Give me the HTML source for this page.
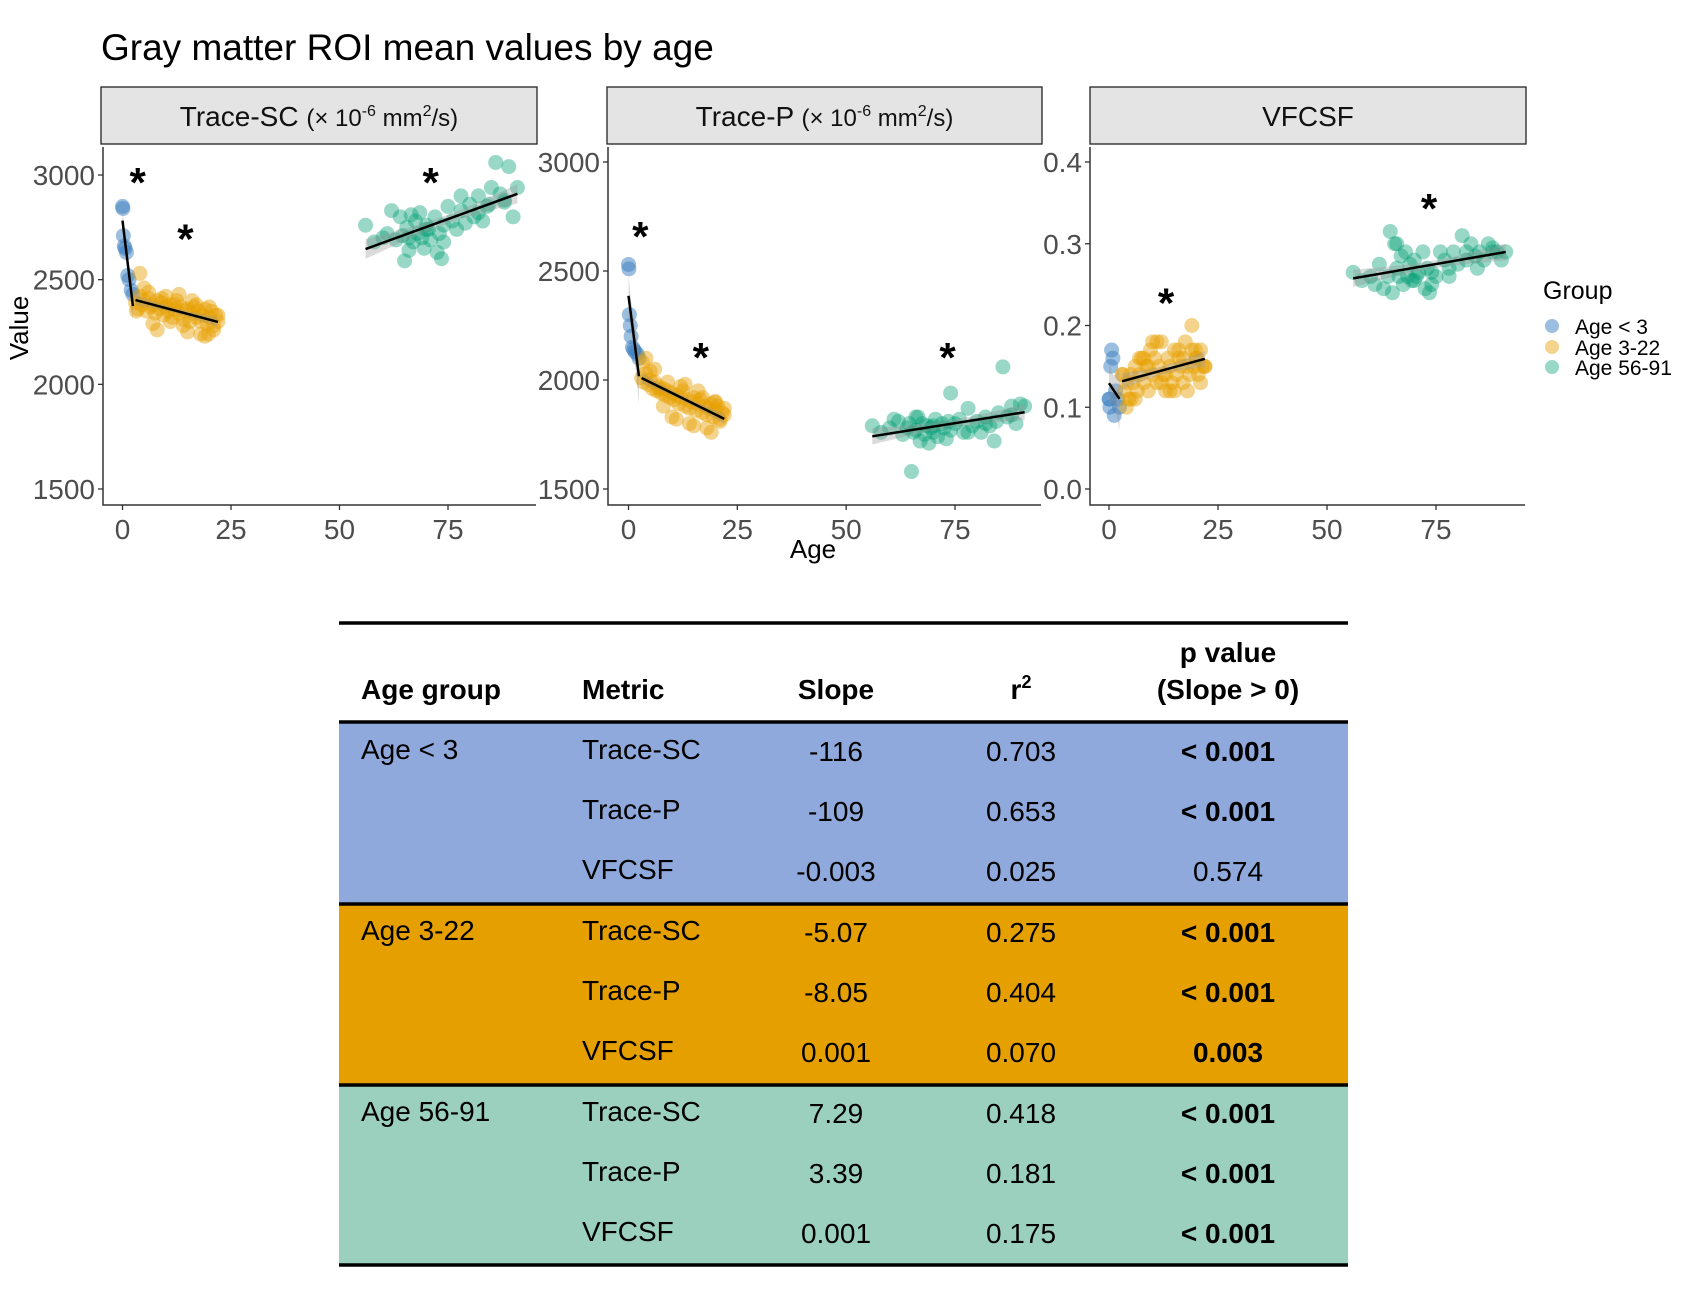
<!DOCTYPE html>
<html><head><meta charset="utf-8"><style>
body{margin:0;background:#fff;}
svg{display:block;font-family:"Liberation Sans",Arial,sans-serif;}
</style></head><body>
<svg id="fig" width="1687" height="1307" viewBox="0 0 1687 1307" xmlns="http://www.w3.org/2000/svg">
<text x="101" y="60" font-size="37" fill="#000">Gray matter ROI mean values by age</text>
<g id="plots"></g>
<text x="28" y="328" font-size="26" text-anchor="middle" transform="rotate(-90 28 328)">Value</text>
<text x="813" y="558" font-size="26" text-anchor="middle">Age</text>
<g>
<text x="1543" y="299" font-size="25">Group</text>
<g><circle cx="1552" cy="326" r="7" fill="#3a7dbf" fill-opacity="0.5"/><text x="1575" y="334" font-size="21">Age &lt; 3</text></g>
<g><circle cx="1552" cy="347" r="7" fill="#E69F00" fill-opacity="0.45"/><text x="1575" y="355" font-size="21">Age 3-22</text></g>
<g><circle cx="1552" cy="367" r="7" fill="#009E73" fill-opacity="0.4"/><text x="1575" y="375" font-size="21">Age 56-91</text></g>
</g>
<g id="table"></g>
</svg>
<script>
// ---- data ----
const blueAges=[0,0.1,0.2,0.4,0.6,0.9,1.2,1.5,2,2.4];
const orangeAges=[3,3.5,4,4.5,5,5.5,6,6.5,7,7.5,8,8.5,9,9.5,10,10.5,11,11.5,12,12.5,13,13.5,14,14.5,15,15.5,16,16.5,17,17.5,18,18.5,19,19.5,20,20.5,21,21.5,22,4,6,8,10,12,14,16,18,20,21,9,11,13,15,17,19,5,7,3.2,22,19.8];
const greenAges=[56,58,60,61,62,63,64,64.5,65,65.5,66,66.5,67,67.5,68,68.5,69,69.5,70,70.5,71,72,72.5,73,73.5,74,75,76,77,78,79,80,81,82,83,84,84.5,85,86,87,88,89,90,91,66,70,74,78,82,88];

const scBlue=[2850,2840,2710,2660,2650,2630,2520,2500,2450,2430];
const scOrange=[2390,2360,2420,2380,2400,2350,2410,2370,2380,2340,2400,2360,2390,2330,2370,2350,2380,2320,2360,2400,2340,2370,2310,2350,2360,2300,2340,2370,2320,2350,2300,2330,2360,2290,2320,2350,2280,2330,2300,2530,2440,2260,2420,2380,2280,2400,2240,2370,2260,2410,2300,2430,2250,2380,2230,2460,2290,2350,2330,2240];
const scGreen=[2760,2680,2700,2720,2830,2690,2800,2710,2590,2750,2700,2810,2680,2780,2720,2820,2700,2650,2760,2740,2690,2800,2630,2720,2600,2760,2850,2780,2740,2830,2770,2860,2800,2900,2780,2850,2860,2940,3060,2910,2870,3040,2800,2940,2640,2740,2680,2900,2820,2880];

const pBlue=[2530,2510,2300,2250,2200,2150,2140,2130,2120,2100];
const pOrange=[2010,1990,2030,1980,2000,1960,1990,1950,1970,1940,1960,1930,1950,1920,1940,1910,1930,1890,1920,1950,1880,1910,1870,1900,1920,1860,1890,1910,1850,1880,1840,1870,1890,1830,1860,1880,1820,1850,1840,2100,2050,1880,1830,1970,1800,1950,1780,1900,1810,1990,1820,1980,1790,1920,1760,2040,1960,2080,1870,1900];
const pGreen=[1790,1760,1780,1820,1810,1750,1780,1800,1580,1760,1770,1830,1720,1800,1750,1790,1710,1780,1760,1820,1740,1800,1780,1730,1810,1940,1800,1820,1760,1870,1790,1810,1760,1830,1790,1720,1810,1850,2060,1830,1880,1800,1890,1880,1830,1790,1770,1760,1800,1840];

const vBlue=[0.11,0.11,0.10,0.15,0.17,0.16,0.09,0.12,0.11,0.10];
const vOrange=[0.14,0.12,0.13,0.11,0.14,0.13,0.15,0.12,0.14,0.16,0.13,0.15,0.12,0.17,0.14,0.16,0.13,0.15,0.18,0.14,0.12,0.16,0.15,0.13,0.17,0.14,0.16,0.15,0.13,0.18,0.15,0.14,0.17,0.15,0.16,0.14,0.17,0.15,0.15,0.10,0.11,0.16,0.18,0.13,0.12,0.17,0.12,0.16,0.13,0.15,0.18,0.14,0.12,0.16,0.20,0.11,0.16,0.14,0.15,0.17];
const vGreen=[0.265,0.255,0.26,0.25,0.275,0.245,0.26,0.315,0.24,0.30,0.27,0.26,0.285,0.25,0.29,0.26,0.275,0.255,0.28,0.26,0.265,0.29,0.245,0.27,0.24,0.25,0.26,0.29,0.28,0.27,0.29,0.275,0.31,0.28,0.30,0.285,0.27,0.29,0.28,0.30,0.29,0.29,0.28,0.29,0.30,0.255,0.265,0.26,0.29,0.295];

const xTicks=[0,25,50,75];
const scTicks=[1500,2000,2500,3000];
const pTicks=[1500,2000,2500,3000];
const vTicks=[0.0,0.1,0.2,0.3,0.4];
const vTickLabels=["0.0","0.1","0.2","0.3","0.4"];
const scStars=[[3.5,2990],[14.5,2720],[71,2990]];
const pStars=[[2.7,2683],[16.6,2128],[73.3,2128]];
const vStars=[[13.1,0.234],[73.4,0.35]];

const tableGroups=["Age < 3","Age 3-22","Age 56-91"];
const tableMetrics=["Trace-SC","Trace-P","VFCSF"];
const tableSlopes=[["-116","-109","-0.003"],["-5.07","-8.05","0.001"],["7.29","3.39","0.001"]];
const tableR2=[["0.703","0.653","0.025"],["0.275","0.404","0.070"],["0.418","0.181","0.175"]];
const tableP=[["< 0.001","< 0.001","0.574"],["< 0.001","< 0.001","0.003"],["< 0.001","< 0.001","< 0.001"]];
const tableBold=[[true,true,false],[true,true,true],[true,true,true]];

// ---- drawing ----
const NS="http://www.w3.org/2000/svg";
function mk(tag,attrs,parent){const e=document.createElementNS(NS,tag);for(const k in attrs)e.setAttribute(k,attrs[k]);if(parent)parent.appendChild(e);return e;}
const COLORS=["#3a7dbf","#E69F00","#009E73"];
const OPAC=[0.5,0.45,0.4];
const plots=document.getElementById('plots');

const panels=[
 {name:'trace-sc',left:103,right:536,x0:122.5,x75:448,yA:3000,pyA:175,yB:1500,pyB:489,ticks:scTicks,labels:scTicks.map(String),stars:scStars,data:[scBlue,scOrange,scGreen],strip:[101,537]},
 {name:'trace-p',left:608,right:1041,x0:628.5,x75:955,yA:3000,pyA:162,yB:1500,pyB:489,ticks:pTicks,labels:pTicks.map(String),stars:pStars,data:[pBlue,pOrange,pGreen],strip:[607,1042]},
 {name:'vfcsf',left:1090,right:1525,x0:1109,x75:1436,yA:0.4,pyA:162,yB:0,pyB:489,ticks:vTicks,labels:vTickLabels,stars:vStars,data:[vBlue,vOrange,vGreen],strip:[1090,1526]}
];
const ages=[blueAges,orangeAges,greenAges];
const TOP=147,BOT=505;

function fit(xs,ys){const n=xs.length;let mx=0,my=0;for(let i=0;i<n;i++){mx+=xs[i];my+=ys[i];}mx/=n;my/=n;let sxx=0,sxy=0;for(let i=0;i<n;i++){sxx+=(xs[i]-mx)**2;sxy+=(xs[i]-mx)*(ys[i]-my);}const b=sxy/sxx,a=my-b*mx;let sse=0;for(let i=0;i<n;i++)sse+=(ys[i]-a-b*xs[i])**2;const s=Math.sqrt(sse/(n-2));return {a,b,mx,sxx,s,n};}

panels.forEach((P,pi)=>{
 const g=mk('g',{},plots);
 
 
 const xs=a=>P.x0+(a/75)*(P.x75-P.x0);
 const ys=v=>P.pyA+(P.yA-v)/(P.yA-P.yB)*(P.pyB-P.pyA);
 const st=mk('rect',{x:P.strip[0],y:87,width:P.strip[1]-P.strip[0],height:57,fill:'#e5e4e5',stroke:'#222','stroke-width':1.3},g);
 
 
 const cx=(P.strip[0]+P.strip[1])/2;
 const tt=mk('text',{x:cx,y:126,'font-size':28,'text-anchor':'middle',fill:'#111'},g);
 
 
 if(pi<2){
  tt.innerHTML=(pi==0?'Trace-SC':'Trace-P')+' <tspan font-size="24">(× 10</tspan><tspan font-size="16" dy="-10">-6</tspan><tspan font-size="24" dy="10"> mm</tspan><tspan font-size="16" dy="-10">2</tspan><tspan font-size="24" dy="10">/s)</tspan>';
 } else tt.textContent='VFCSF';
 const ax=mk('path',{d:`M${P.left},${TOP} V${BOT} H${P.right}`,fill:'none',stroke:'#333','stroke-width':1.5},g);
 
 
 P.ticks.forEach((t,i)=>{
  const y=ys(t);
  mk('line',{x1:P.left-5,x2:P.left,y1:y,y2:y,stroke:'#333','stroke-width':1.3},g);
  const tl=mk('text',{x:P.left-8,y:y+10,'font-size':28,'text-anchor':'end',fill:'#4d4d4d'},g);
  tl.textContent=P.labels[i];
  
  
 });
 xTicks.forEach(t=>{
  const x=xs(t);
  mk('line',{x1:x,x2:x,y1:BOT,y2:BOT+5,stroke:'#333','stroke-width':1.3},g);
  const tl=mk('text',{x:x,y:BOT+34,'font-size':28,'text-anchor':'middle',fill:'#4d4d4d'},g);
  tl.textContent=t;
  
  
 });
 [0,1,2].forEach(gi=>{
  const A=ages[gi],V=P.data[gi];
  A.forEach((a,i)=>{
   const c=mk('circle',{cx:xs(a),cy:ys(V[i]),r:7.5,fill:COLORS[gi],'fill-opacity':OPAC[gi]},g);
   
   
  });
 });
 [0,1,2].forEach(gi=>{
  const A=ages[gi],V=P.data[gi];
  const f=fit(A,V);
  const lo=Math.min(...A),hi=Math.max(...A);
  const N=20;let up=[],dn=[];
  for(let k=0;k<=N;k++){const a=lo+(hi-lo)*k/N;const yh=f.a+f.b*a;const se=f.s*Math.sqrt(1/f.n+(a-f.mx)**2/f.sxx)*2.0;up.push(xs(a)+','+ys(yh+se));dn.unshift(xs(a)+','+ys(yh-se));}
  const band=mk('polygon',{points:up.concat(dn).join(' '),fill:'#999','fill-opacity':0.35},g);
  
  
  const ln=mk('line',{x1:xs(lo),y1:ys(f.a+f.b*lo),x2:xs(hi),y2:ys(f.a+f.b*hi),stroke:'#000','stroke-width':2.5},g);
  
  
 });
 P.stars.forEach(s=>{
  const t=mk('text',{x:xs(s[0]),y:ys(s[1])+20,'font-size':42,'font-weight':'bold','text-anchor':'middle'},g);
  t.textContent='*';
  
  
 });
});

// table
const T=document.getElementById('table');
const L=339,R=1348;
const C1=361,C2=582,C3=836,C4=1021,C5=1228;
const bandTops=[722,904,1085],bandBots=[904,1085,1265];
const bandCols=['#8fa9dc','#e5a000','#9bd0be'];
bandTops.forEach((t,i)=>{
 const r=mk('rect',{x:L,y:t,width:R-L,height:bandBots[i]-t,fill:bandCols[i]},T);
 
 
});
[623,722,904,1085,1265].forEach(y=>{mk('line',{x1:L,x2:R,y1:y,y2:y,stroke:'#000','stroke-width':3.5},T);});
const hdr=mk('g',{'font-size':28,'font-weight':'bold'},T);


mk('text',{x:C1,y:699},hdr).textContent='Age group';
mk('text',{x:C2,y:699},hdr).textContent='Metric';
mk('text',{x:C3,y:699,'text-anchor':'middle'},hdr).textContent='Slope';
const r2=mk('text',{x:C4,y:699,'text-anchor':'middle'},hdr);r2.innerHTML='r<tspan font-size="18" dy="-11">2</tspan>';
mk('text',{x:C5,y:662,'text-anchor':'middle'},hdr).textContent='p value';
mk('text',{x:C5,y:699,'text-anchor':'middle'},hdr).textContent='(Slope > 0)';
tableGroups.forEach((gName,gi)=>{
 const base=759+gi*181;
 const gt=mk('text',{x:C1,y:base,'font-size':28},T);gt.textContent=gName;
 
 
 tableMetrics.forEach((m,mi)=>{
  const y=base+mi*60;
  const row=mk('g',{'font-size':28},T);
  
  
  mk('text',{x:C2,y:y},row).textContent=m;
  mk('text',{x:C3,y:y+2,'text-anchor':'middle'},row).textContent=tableSlopes[gi][mi];
  mk('text',{x:C4,y:y+2,'text-anchor':'middle'},row).textContent=tableR2[gi][mi];
  const p=mk('text',{x:C5,y:y+2,'text-anchor':'middle','font-weight':tableBold[gi][mi]?'bold':'normal'},row);p.textContent=tableP[gi][mi];
 });
});
</script>
</body></html>
